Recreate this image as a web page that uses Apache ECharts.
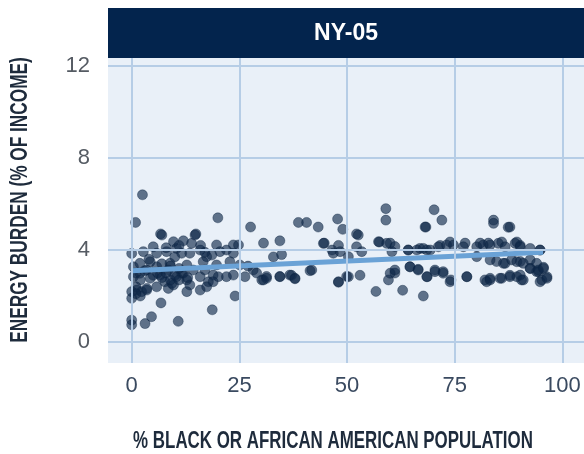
<!DOCTYPE html>
<html>
<head>
<meta charset="utf-8">
<script src="https://cdn.jsdelivr.net/npm/echarts@6/dist/echarts.min.js"></script>
<style>html,body{margin:0;padding:0;background:#fff}#c{width:584px;height:454px}</style>
</head>
<body>
<div id="c"></div>
<script>
var panelTitle = 'NY-05';
var xTitle = '% BLACK OR AFRICAN AMERICAN POPULATION';
var yTitle = 'ENERGY BURDEN (% OF INCOME)';
var xTicks = [0, 25, 50, 75, 100];
var yTicks = [0, 4, 8, 12];

var xValues = [
2.5,0.9,20,27.6,38.7,40.6,43.3,47.8,49,6.7,14.9,0,24,18.7,10.8,4.6,3.1,0,0,6.8,0,30.6,34.4,32.9,34.8,30.2,31.3,34.4,37.1,37.9,41.4,48,49.9,44.7,46.5,48,
59,59,70.2,72,68.3,84,87.8,52.2,57.5,60,61.1,64.2,66.9,68.5,71.6,73.9,77.4,80.9,82.8,85.9,89.4,90.2,94.8,53,56.7,62.9,67.7,59.6,61.1,64.6,66.5,68.6,70.4,72.3,74.1,77.8,82,83.2,85.9,87.8,89.4,90.5,92.5,94.4,95.2,96.4,84.7,86.7,88.2,90.2,92.5,94,95.6,
2.7,5,7,9.7,10.4,13.9,14.7,15.9,18.6,19.7,22,23.6,24.8,1.2,2.3,3.5,0,
0.4,0.4,1.9,3.5,4.3,5.8,6.6,7.7,8.5,9.3,10.4,11.6,12.8,13.5,14.3,15.9,17,17.8,18.9,20.1,22,23.6,26.3,28.2,30.6,31.3,34.4,36.7,37.9,
52.6,44.5,46.8,48.4,50.3,52.2,53.4,57.3,59.2,60.4,
64.2,66.2,67.7,69.3,71.2,73.1,74.7,77,80.1,81.6,83.2,85.1,86.7,89,90.2,92.5,94.8,
41.8,48,50.3,
60,61.1,64.6,66.5,68.5,70.4,72.3,73.9,77.8,82.4,83.2,85.5,87.8,90.2,90.9,94,94.8,96.4,
80.1,83.2,86.3,89.4,90.9,92.5,94.4,95.6,
5.8,8.1,11.6,13.5,17.4,20.5,23.6,
1.9,4.3,8.9,12.8,16.6,19.7,22.8,25.1,
3.5,5.8,8.5,9.7,12.8,15.9,17.4,18.9,
27,29,1,2,3,5,6,7,8,9,10,11,12,13,9,11,7,4,10,11,12,8,16,17,1,2,1,
84,87.4,68.1
];
var yValues = [
6.4,5.2,5.4,5.0,5.2,5.2,5.0,5.35,4.9,4.7,4.7,3.85,2.0,1.4,0.9,1.1,0.8,0.95,0.75,1.7,1.9,4.3,4.4,3.7,3.8,2.7,2.85,2.85,2.9,2.75,3.1,2.6,2.85,4.3,4.0,4.2,
5.8,5.3,5.75,5.3,5.0,5.3,5.0,4.7,4.35,4.3,4.15,4.0,4.07,4.0,4.2,4.35,4.3,4.3,4.3,4.35,4.35,4.2,4.0,2.9,2.2,2.25,2.0,2.7,3.0,3.27,3.16,2.84,3.13,3.06,2.7,2.84,2.7,2.77,2.77,2.9,2.84,2.7,3.2,3.06,2.7,2.84,3.5,3.42,3.57,3.5,3.57,3.42,3.25,
3.93,4.14,4.65,4.36,4.07,4.29,4.65,4.0,3.78,4.22,4.0,4.22,4.22,2.26,2.19,2.26,2.19,
3.27,2.84,2.99,3.13,2.77,3.27,2.91,2.62,3.13,2.55,2.84,2.99,2.7,2.48,3.13,2.84,3.13,2.62,2.91,2.84,2.84,2.91,2.84,3.13,2.7,2.77,2.84,2.91,2.77,
4.65,4.29,3.86,3.93,3.71,4.14,3.93,4.36,4.29,3.93,
4,4,4.07,4,4.14,4.22,4.22,4.14,4.14,4.22,4.22,4.29,4.14,4.29,4.14,4.07,4,
3.13,2.62,2.84,
2.99,3.13,3.27,3.13,2.84,3.06,2.99,2.62,2.84,2.62,2.7,2.77,2.84,2.91,2.7,3.06,2.62,2.77,
3.71,3.57,3.42,3.49,3.42,3.2,3.13,3.2,
3.86,3.93,3.86,3.86,3.71,3.93,3.86,
3.42,3.49,3.42,3.35,3.49,3.35,3.49,3.35,
2.33,2.4,2.33,2.48,2.19,2.26,2.4,2.62,
3.3,3.0,3.0,2.7,3.1,2.9,3.0,2.8,3.0,2.7,2.9,2.7,3.0,2.8,3.3,3.2,3.4,3.6,3.7,4.2,4.4,4.1,4.2,3.9,2.4,2.0,2.1,
5.16,4.99,5.0
];
var trendX = [0, 95.5];
var trendY = [3.1, 3.9];

var points = xValues.map(function (x, i) { return [x, yValues[i]]; });
var trend = trendX.map(function (x, i) { return [x, trendY[i]]; });

var chart = echarts.init(document.getElementById('c'), null, {renderer: 'canvas'});
var gridLeft = 108, gridTop = 58, gridW = 476, gridH = 305;
var gridColor = '#b6cde6';
var titleFont = 'bold 23px "Liberation Sans", Arial, sans-serif';

chart.setOption({
  animation: false,
  backgroundColor: '#ffffff',
  grid: {left: gridLeft, top: gridTop, width: gridW, height: gridH, show: true,
         backgroundColor: '#e9f0f8', borderWidth: 0},
  xAxis: {
    type: 'value', min: -5.5, max: 105,
    axisLine: {show: false}, axisTick: {show: false}, splitLine: {show: false},
    axisLabel: {customValues: xTicks, margin: 12, fontSize: 22,
                fontFamily: 'Liberation Sans, Arial, sans-serif', color: '#3a4a60'}
  },
  yAxis: {
    type: 'value', min: -0.913, max: 12.35,
    axisLine: {show: false}, axisTick: {show: false}, splitLine: {show: false},
    axisLabel: {customValues: yTicks, margin: 18, fontSize: 22,
                fontFamily: 'Liberation Sans, Arial, sans-serif', color: '#555b63'}
  },
  graphic: [
    {type: 'rect', left: gridLeft, top: 8, shape: {width: gridW, height: 50},
     style: {fill: '#03244d'}},
    {type: 'text', x: 346, y: 34, style: {text: panelTitle, fill: '#ffffff',
     font: 'bold 23px "Liberation Sans", Arial, sans-serif', textAlign: 'center', textVerticalAlign: 'middle'}},
    {type: 'text', x: 333, y: 442, scaleX: 0.735, style: {text: xTitle, fill: '#1e2b3c',
     font: titleFont, textAlign: 'center', textVerticalAlign: 'middle'}},
    {type: 'text', x: 21, y: 200, rotation: Math.PI / 2, scaleX: 0.75, style: {text: yTitle, fill: '#1e2b3c',
     font: titleFont, textAlign: 'center', textVerticalAlign: 'middle'}}
  ],
  series: [
    {
      type: 'line', data: [], silent: true, z: 1,
      markLine: {
        silent: true, symbol: 'none', label: {show: false},
        lineStyle: {color: gridColor, width: 2, type: 'solid'},
        data: xTicks.map(function (v) { return {xAxis: v}; })
          .concat(yTicks.map(function (v) { return {yAxis: v}; }))
      }
    },
    {
      type: 'scatter', data: points, symbolSize: 10, z: 3,
      itemStyle: {color: '#0f294a', opacity: 0.64, borderColor: '#0b2240', borderWidth: 0.6}
    },
    {
      type: 'line', data: trend, showSymbol: false, z: 4,
      lineStyle: {color: '#6aa2d6', width: 5, cap: 'butt'}
    }
  ]
});
</script>
</body>
</html>
